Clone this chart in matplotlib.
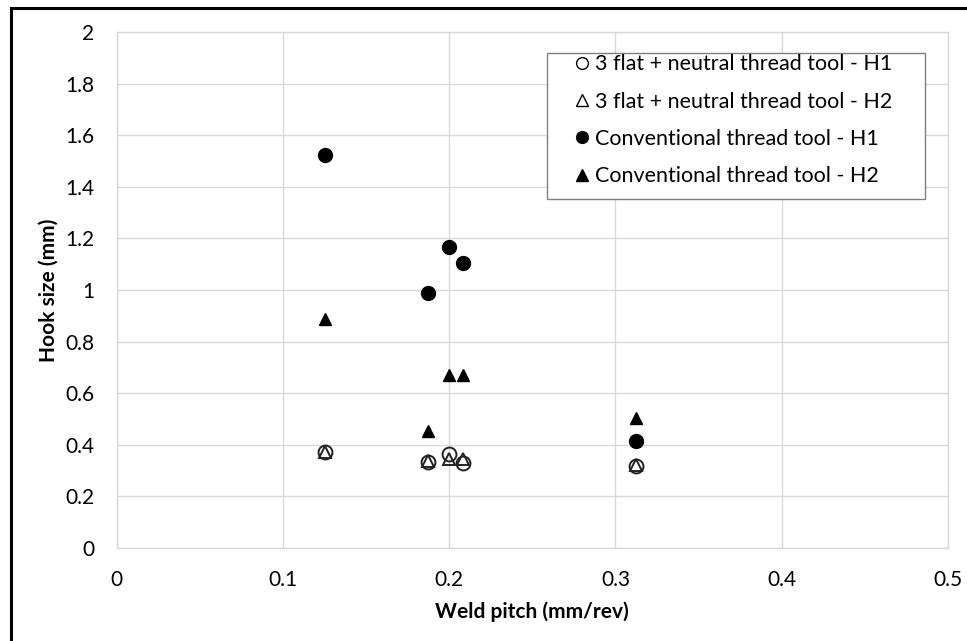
import matplotlib
matplotlib.use("Agg")
import matplotlib.pyplot as plt
from matplotlib.lines import Line2D
from matplotlib.patches import Rectangle

# Data
flat_h1_x = [0.125, 0.1875, 0.2, 0.2083, 0.3125]
flat_h1_y = [0.372, 0.333, 0.366, 0.328, 0.318]
flat_h2_x = [0.125, 0.1875, 0.2, 0.2083, 0.3125]
flat_h2_y = [0.372, 0.337, 0.344, 0.344, 0.320]
conv_h1_x = [0.125, 0.1875, 0.2, 0.2083, 0.3125]
conv_h1_y = [1.523, 0.987, 1.168, 1.106, 0.416]
conv_h2_x = [0.125, 0.1875, 0.2, 0.2083, 0.3125]
conv_h2_y = [0.886, 0.455, 0.671, 0.671, 0.505]

labels = ["3 flat + neutral thread tool - H1",
          "3 flat + neutral thread tool - H2",
          "Conventional thread tool - H1",
          "Conventional thread tool - H2"]
x_ticks = [0, 0.1, 0.2, 0.3, 0.4, 0.5]
y_ticks = [0, 0.2, 0.4, 0.6, 0.8, 1, 1.2, 1.4, 1.6, 1.8, 2]
x_ticklabels = ["0", "0.1", "0.2", "0.3", "0.4", "0.5"]
y_ticklabels = ["0", "0.2", "0.4", "0.6", "0.8", "1", "1.2", "1.4", "1.6", "1.8", "2"]

plt.rcParams['font.family'] = ['Lato', 'DejaVu Sans']

W, H = 967, 641
fig = plt.figure(figsize=(W/100, H/100), dpi=100)
ax_l, ax_r, ax_t, ax_b = 116.7, 948.0, 32.0, 548.0
ax = fig.add_axes([ax_l/W, 1-ax_b/H, (ax_r-ax_l)/W, (ax_b-ax_t)/H])

def ax_coords(px, py):
    return ((px-ax_l)/(ax_r-ax_l), (ax_b-py)/(ax_b-ax_t))

ms = 10
ax.plot(flat_h1_x, flat_h1_y, 'o', ms=ms, mfc='none', mec='#222222', mew=1.4, zorder=3)
ax.plot(flat_h2_x, flat_h2_y, '^', ms=ms-1, mfc='none', mec='#222222', mew=1.4, zorder=3)
ax.plot(conv_h1_x, conv_h1_y, 'o', ms=ms, mfc='black', mec='black', zorder=3)
ax.plot(conv_h2_x, conv_h2_y, '^', ms=ms-1, mfc='black', mec='black', zorder=3)

ax.set_xlim(0, 0.5)
ax.set_ylim(0, 2)
ax.set_xticks(x_ticks)
ax.set_xticklabels(x_ticklabels)
ax.set_yticks(y_ticks)
ax.set_yticklabels(y_ticklabels)
ax.grid(True, color='#d9d9d9', lw=1)
ax.set_axisbelow(True)
for s in ax.spines.values():
    s.set_color('#d9d9d9')
    s.set_linewidth(1)
ax.tick_params(axis='both', length=0, labelsize=15, colors='#000000')
ax.tick_params(axis='x', pad=16)
ax.tick_params(axis='y', pad=16)

ax.set_xlabel("Weld pitch (mm/rev)", fontsize=15, fontweight='bold', labelpad=8)
ax.set_ylabel("Hook size (mm)", fontsize=15, fontweight='bold', labelpad=4.5)

# legend frame
x0, y0 = ax_coords(547, 199)
x1, y1 = ax_coords(925, 52.7)
ax.add_patch(Rectangle((x0, y0), x1-x0, y1-y0, transform=ax.transAxes, fill=True,
                       facecolor='white', edgecolor='#7f7f7f', lw=1, zorder=4))

handles = [
    Line2D([], [], ls='none', marker='o', ms=8.5, mfc='none', mec='black', mew=1),
    Line2D([], [], ls='none', marker='^', ms=8, mfc='none', mec='black', mew=1),
    Line2D([], [], ls='none', marker='o', ms=8.5, mfc='black', mec='black'),
    Line2D([], [], ls='none', marker='^', ms=8, mfc='black', mec='black'),
]
lx, ly = ax_coords(576.0, 54.5)
leg = ax.legend(handles, labels, loc='upper left', bbox_to_anchor=(lx, ly),
                borderaxespad=0, fontsize=15.5, frameon=False,
                handlelength=0.6, handletextpad=0.28,
                labelspacing=0.8, borderpad=0)
leg.set_zorder(5)

# outer chart border (top and left visible)
fig.add_artist(Line2D([11/W, 11/W], [0, 1-8/H], color='black', lw=2.2, transform=fig.transFigure))
fig.add_artist(Line2D([11/W, 1], [1-8/H, 1-8/H], color='black', lw=2.2, transform=fig.transFigure))

fig.savefig("out.png", dpi=100)
